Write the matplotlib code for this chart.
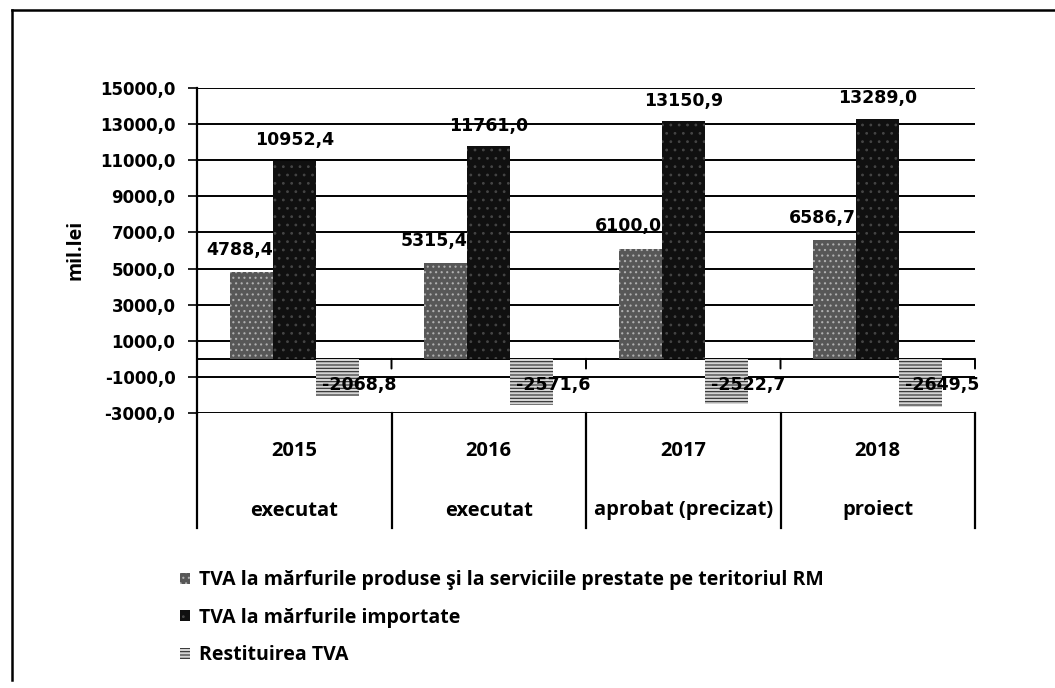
import matplotlib
matplotlib.use('Agg')
import matplotlib.pyplot as plt
from matplotlib.lines import Line2D
import matplotlib.transforms as mtransforms
import numpy as np

# Data (mil. lei)
years = ['2015', '2016', '2017', '2018']
stages = ['executat', 'executat', 'aprobat (precizat)', 'proiect']
tva_intern = [4788.4, 5315.4, 6100.0, 6586.7]
tva_import = [10952.4, 11761.0, 13150.9, 13289.0]
restituire = [-2068.8, -2571.6, -2522.7, -2649.5]
series_names = ['TVA la mărfurile produse şi la serviciile prestate pe teritoriul RM',
                'TVA la mărfurile importate',
                'Restituirea TVA']
yticks = np.arange(-3000, 15001, 2000)

plt.rcParams['font.family'] = ['Open Sans', 'DejaVu Sans']
plt.rcParams['font.weight'] = 'bold'
plt.rcParams['hatch.linewidth'] = 0.8
num_font = dict(fontfamily='DejaVu Sans', fontweight='bold')

def fmt(v):
    return f'{v:.1f}'.replace('.', ',')

fig = plt.figure(figsize=(10.55, 6.88), dpi=100)
ax = fig.add_axes([197/1055, 1 - 413/688, 778/1055, 325/688])

x = np.arange(len(years))
w = 0.221
b1 = ax.bar(x - w, tva_intern, w, color='#575757', edgecolor='#b0b0b0', hatch='...', linewidth=0, zorder=3)
b2 = ax.bar(x, tva_import, w, color='#101010', edgecolor='#454545', hatch='..', linewidth=0, zorder=3)
b3 = ax.bar(x + w, restituire, w, color='#d4d4d4', edgecolor='#2b2b2b', hatch='-----', linewidth=0, zorder=3)

ax.set_xlim(-0.5, len(years) - 0.5)
ax.set_ylim(-3000, 15000)
ax.set_yticks(yticks)
ax.set_yticklabels([fmt(v) for v in yticks], fontsize=12, **num_font)
ax.tick_params(axis='y', length=6.5, width=1.2, pad=9, color='black')
ax.set_xticks([])
ax.grid(axis='y', color='black', linewidth=1.4, zorder=1)
for s in ['top', 'right', 'bottom']:
    ax.spines[s].set_visible(False)
ax.spines['left'].set_linewidth(1.6)
ax.axhline(0, color='black', linewidth=1.4, zorder=2)

# data labels
for xi, v in zip(x, tva_intern):
    ax.annotate(fmt(v), (xi - w / 2, v), xytext=(0, 16), textcoords='offset points',
                ha='right', va='center', fontsize=12.5, zorder=4, **num_font)
for xi, v in zip(x, tva_import):
    ax.annotate(fmt(v), (xi, v), xytext=(0, 15), textcoords='offset points',
                ha='center', va='center', fontsize=12.5, zorder=4, **num_font)
for xi, v in zip(x, restituire):
    ax.text(xi + w / 2 + 0.03, -1450, fmt(v), ha='left', va='center', fontsize=12.5,
            zorder=4, **num_font)

# category table below the plot
trans = mtransforms.blended_transform_factory(ax.transData, ax.transAxes)
for b in np.arange(-0.5, len(years), 1.0):
    ax.plot([b, b], [0, -0.354], transform=trans, color='black', lw=1.6, clip_on=False)
for xi, yr, st in zip(x, years, stages):
    ax.text(xi, -0.118, yr, transform=trans, ha='center', va='center', fontsize=14.5)
    ax.text(xi, -0.30, st, transform=trans, ha='center', va='center', fontsize=14.5)

# small ticks under the zero line
for b in np.arange(-0.5, len(years), 1.0):
    ax.annotate('', xy=(b, 0), xytext=(0, -7), textcoords='offset points',
                arrowprops=dict(arrowstyle='-', color='black', lw=1.4, shrinkA=0, shrinkB=0))

fig.text(75/1055, 1 - 250/688, 'mil.lei', rotation=90, ha='center', va='center', fontsize=14)

fig.legend([b1, b2, b3], series_names, loc='upper left', bbox_to_anchor=(180/1055, 1 - 570/688),
           frameon=False, fontsize=14, handlelength=0.5, handleheight=0.5, handletextpad=0.5,
           labelspacing=0.9, borderpad=0, borderaxespad=0)

# outer frame
fig.add_artist(Line2D([12/1055, 12/1055], [1 - 10/688, 1 - 680/688], color='black', lw=1.8))
fig.add_artist(Line2D([12/1055, 1.0], [1 - 10/688, 1 - 10/688], color='black', lw=1.8))

fig.savefig('out.png', dpi=100)
